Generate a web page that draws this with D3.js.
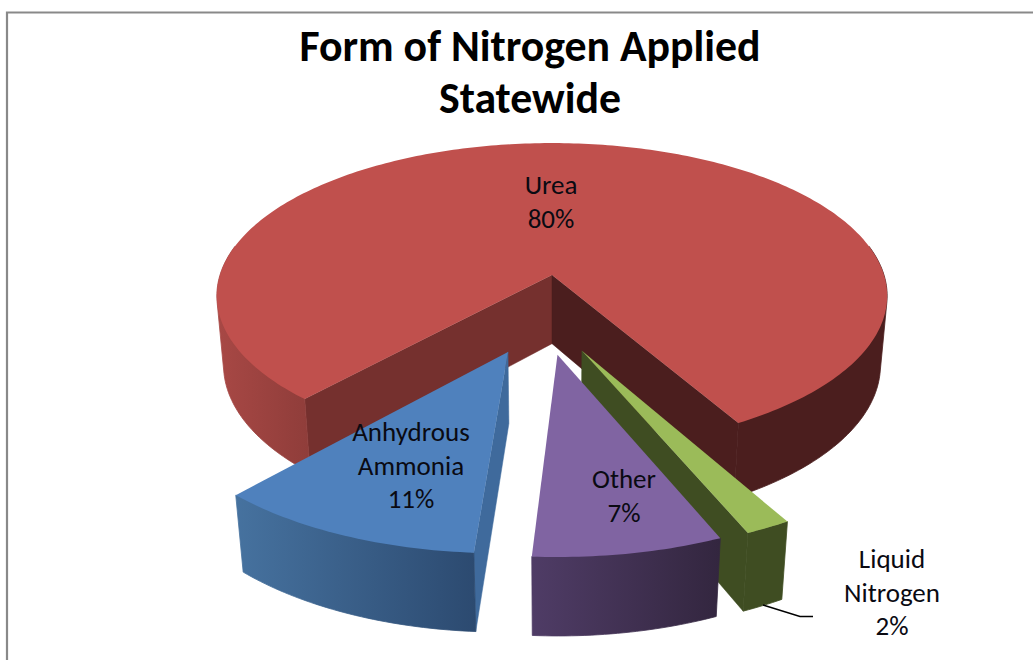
<!DOCTYPE html>
<html><head><meta charset="utf-8">
<script src="https://cdnjs.cloudflare.com/ajax/libs/d3/7.8.5/d3.min.js"></script>
<style>html,body{margin:0;padding:0;background:#fff}svg{display:block}</style>
</head><body><div id="chart"></div>
<script>
const categories = ["Urea","Liquid Nitrogen","Other","Anhydrous Ammonia"];
const values = [80.1,1.8,7.45,10.65];
const percentLabels = ["80%","2%","7%","11%"];
const titleLines = ["Form of Nitrogen Applied","Statewide"];
const nameLines = [["Urea"],["Liquid","Nitrogen"],["Other"],["Anhydrous","Ammonia"]];

const topColors = ["#c0504d","#9bbb59","#8064a2","#4f81bd"];
const outerFrom = ["#a84845","#3f4d22","#4f3c66","#46729f"];
const outerTo   = ["#4b1e1e","#3f4d22","#33263f","#2c4a70"];
const radialStart = ["#75302e","#3f4d22","#4f3c66","#3f6a9c"];
const radialEnd   = ["#4b1e1e","#3f4d22","#33263f","#2c4a70"];
const paintOrder = [0,3,1,2];
const labelAnchors = [[551,194],[892,568],[624,488],[411,441]];

const W=1033,H=660;
const svg=d3.select("#chart").append("svg").attr("width",W).attr("height",H);
const defs=svg.append("defs");
const FONT="Carlito, Calibri, Lato, sans-serif";

// frame
svg.append("path").attr("d","M7,660V12.5H1033").attr("fill","none").attr("stroke","#898989").attr("stroke-width",2.2);

// perspective projection
const k=0.137, m=0.02, depth=70/150, explode=0.25, startDeg=222;
const sx=d3.scaleLinear().domain([-1,1]).range([552-332,552+332]);
const sy=d3.scaleLinear().domain([-1,1]).range([275-150,275+150]);
const project=(x,y,d)=>{const w=1-k*y+m*d; return [sx(x/w),sy((y+depth*d)/w)];};

const pie=d3.pie().sort(null).value(d=>d)
  .startAngle(startDeg*Math.PI/180).endAngle((startDeg+360)*Math.PI/180);
const arcs=pie(values);
const dir=a=>[Math.sin(a),-Math.cos(a)];
const mid=a=>(a.startAngle+a.endAngle)/2;
const dU=dir(mid(arcs[0]));
const C=[-explode*dU[0],-explode*dU[1]];
const line=d3.line().curve(d3.curveLinear);

paintOrder.forEach(i=>{
  const a=arcs[i], dd=dir(mid(a));
  const O=[C[0]+explode*dd[0],C[1]+explode*dd[1]];
  const rim=t=>{const p=dir(t);return [O[0]+p[0],O[1]+p[1]];};
  const n=Math.max(8,Math.ceil((a.endAngle-a.startAngle)*60));
  const ts=d3.range(n+1).map(j=>a.startAngle+(a.endAngle-a.startAngle)*j/n);
  const g=svg.append("g").attr("class","slice").attr("data-name",categories[i]);

  // radial walls: only the ones facing the viewer
  [[a.startAngle,radialStart[i],1],[a.endAngle,radialEnd[i],-1]].forEach(([t,c,sign])=>{
    const r=rim(t);
    const quad=[project(O[0],O[1],0),project(r[0],r[1],0),project(r[0],r[1],1),project(O[0],O[1],1)];
    if(d3.polygonArea(quad)*sign>0)
      g.append("path").attr("d",line(quad)+"Z").attr("fill",c).attr("stroke",c).attr("stroke-width",.5);
  });

  // outer wall: runs of the rim that face the viewer
  const runs=[];let cur=null;
  ts.forEach(t=>{
    const vis=Math.cos(t)<0.2;
    if(vis){ if(!cur){cur=[];runs.push(cur);} cur.push(t);} else cur=null;
  });
  runs.forEach((run,ri)=>{
    const id=`wall${i}_${ri}`;
    const leftRun=Math.sin(run[Math.floor(run.length/2)])<0 && i===0;
    const rightRun=i===0&&!leftRun;
    const gr=defs.append("linearGradient").attr("id",id).attr("x1",0).attr("x2",1).attr("y1",0).attr("y2",0);
    gr.append("stop").attr("offset",0).attr("stop-color",rightRun?outerTo[i]:outerFrom[i]);
    gr.append("stop").attr("offset",1).attr("stop-color",leftRun?"#8f3d3a":outerTo[i]);
    const top=run.map(t=>{const r=rim(t);return project(r[0],r[1],0);});
    const bot=run.map(t=>{const r=rim(t);return project(r[0],r[1],1);});
    g.append("path").attr("d",line(d3.polygonHull(top.concat(bot)))+"Z")
     .attr("fill",`url(#${id})`).attr("stroke",`url(#${id})`).attr("stroke-width",.8);
  });

  // top face
  const pts=[project(O[0],O[1],0)].concat(ts.map(t=>{const r=rim(t);return project(r[0],r[1],0);}));
  g.append("path").attr("d",line(pts)+"Z").attr("fill",topColors[i]);
});

// leader line
svg.append("path").attr("d",d3.line()([[763,605],[800,616.5],[813,616.5]]))
  .attr("fill","none").attr("stroke","#000").attr("stroke-width",1.4);

// labels
nameLines.forEach((ls,i)=>{
  const t=svg.append("text").attr("font-family",FONT).attr("font-size",27).attr("fill","#0a0a12").attr("text-anchor","middle");
  ls.concat([percentLabels[i]]).forEach((s,j)=>t.append("tspan").attr("x",labelAnchors[i][0]).attr("y",labelAnchors[i][1]+j*33.5).text(s));
});

// title
const tt=svg.append("text").attr("font-family",FONT).attr("font-size",43.8).attr("font-weight",700).attr("fill","#000").attr("text-anchor","middle");
titleLines.forEach((s,j)=>tt.append("tspan").attr("x",530).attr("y",61+j*52).text(s));
</script></body></html>
